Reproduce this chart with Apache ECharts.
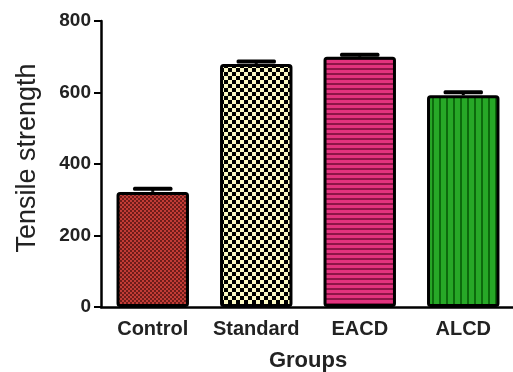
<!DOCTYPE html>
<html><head><meta charset="utf-8">
<script src="https://cdn.jsdelivr.net/npm/echarts@6/dist/echarts.min.js"></script>
<style>html,body{margin:0;padding:0;background:#fff}#c{width:513px;height:372px}</style>
</head><body><div id="c"></div>
<script>
const categories = ['Control', 'Standard', 'EACD', 'ALCD'];
const means = [322, 680, 700, 592];
const errors = [10, 8, 7, 10];
const yTicks = [0, 200, 400, 600, 800];

function pattern(w, h, draw) {
  const c = document.createElement('canvas');
  c.width = w; c.height = h;
  draw(c.getContext('2d'));
  return { image: c, repeat: 'repeat' };
}
const fills = [
  pattern(4, 4, g => { g.fillStyle = '#c23c36'; g.fillRect(0,0,4,4); g.fillStyle = '#6e1c19'; g.fillRect(0,0,2,2); g.fillRect(2,2,2,2); }),
  pattern(8, 8, g => { g.fillStyle = '#fbf9c2'; g.fillRect(0,0,8,8); g.fillStyle = '#000'; g.fillRect(0,0,4,4); g.fillRect(4,4,4,4); }),
  pattern(5, 5, g => { g.fillStyle = '#e2337e'; g.fillRect(0,0,5,5); g.fillStyle = '#8e1548'; g.fillRect(0,3,5,2); }),
  pattern(7, 7, g => { g.fillStyle = '#27a827'; g.fillRect(0,0,7,7); g.fillStyle = '#0c6a0c'; g.fillRect(5,0,2,7); })
];

const chart = echarts.init(document.getElementById('c'));
const font = 'Arial, "Liberation Sans", sans-serif';
chart.setOption({
  animation: false,
  grid: { left: 101, right: -2, top: 21, bottom: 65, containLabel: false, outerBoundsMode: 'none' },
  xAxis: {
    type: 'category', data: categories,
    name: 'Groups', nameLocation: 'middle', nameGap: 43,
    nameTextStyle: { fontFamily: font, fontWeight: 'bold', fontSize: 22, color: '#222' },
    axisLine: { lineStyle: { color: '#000', width: 2.5 } },
    axisTick: { alignWithLabel: true, interval: 0, length: 8, lineStyle: { color: '#000', width: 2 } },
    axisLabel: { interval: 0, fontFamily: font, fontWeight: 'bold', fontSize: 20, color: '#222', margin: 12 }
  },
  yAxis: {
    type: 'value', min: 0, max: 800, interval: 200,
    name: 'Tensile strength', nameLocation: 'middle', nameGap: 60, nameRotate: 90,
    nameTextStyle: { fontFamily: font, fontSize: 27, color: '#222', padding: [0, 0, 0, 12] },
    axisLine: { show: true, lineStyle: { color: '#000', width: 2.5 } },
    axisTick: { show: true, length: 7, lineStyle: { color: '#000', width: 2 } },
    axisLabel: { fontFamily: font, fontWeight: 'bold', fontSize: 19, color: '#222', margin: 10 },
    splitLine: { show: false }
  },
  series: [
    {
      type: 'bar', barWidth: '70%',
      data: means.map((v, i) => ({ value: v, itemStyle: { color: fills[i] } })),
      itemStyle: { borderColor: '#000', borderWidth: 3, borderRadius: 2 },
      z: 2
    },
    {
      type: 'custom', z: 3,
      data: means.map((v, i) => [i, v, v + errors[i]]),
      renderItem: function (params, api) {
        const x = api.value(0);
        const p0 = api.coord([x, api.value(1)]);
        const p1 = api.coord([x, api.value(2)]);
        const hw = api.size([1, 0])[0] * 0.19;
        return {
          type: 'group', children: [
            { type: 'line', shape: { x1: p0[0], y1: p0[1], x2: p1[0], y2: p1[1] }, style: { stroke: '#000', lineWidth: 3 } },
            { type: 'rect', shape: { x: p1[0] - hw, y: p1[1] - 1.5, width: hw * 2, height: 4, r: 1.5 }, style: { fill: '#000' } }
          ]
        };
      }
    }
  ]
});
</script></body></html>
